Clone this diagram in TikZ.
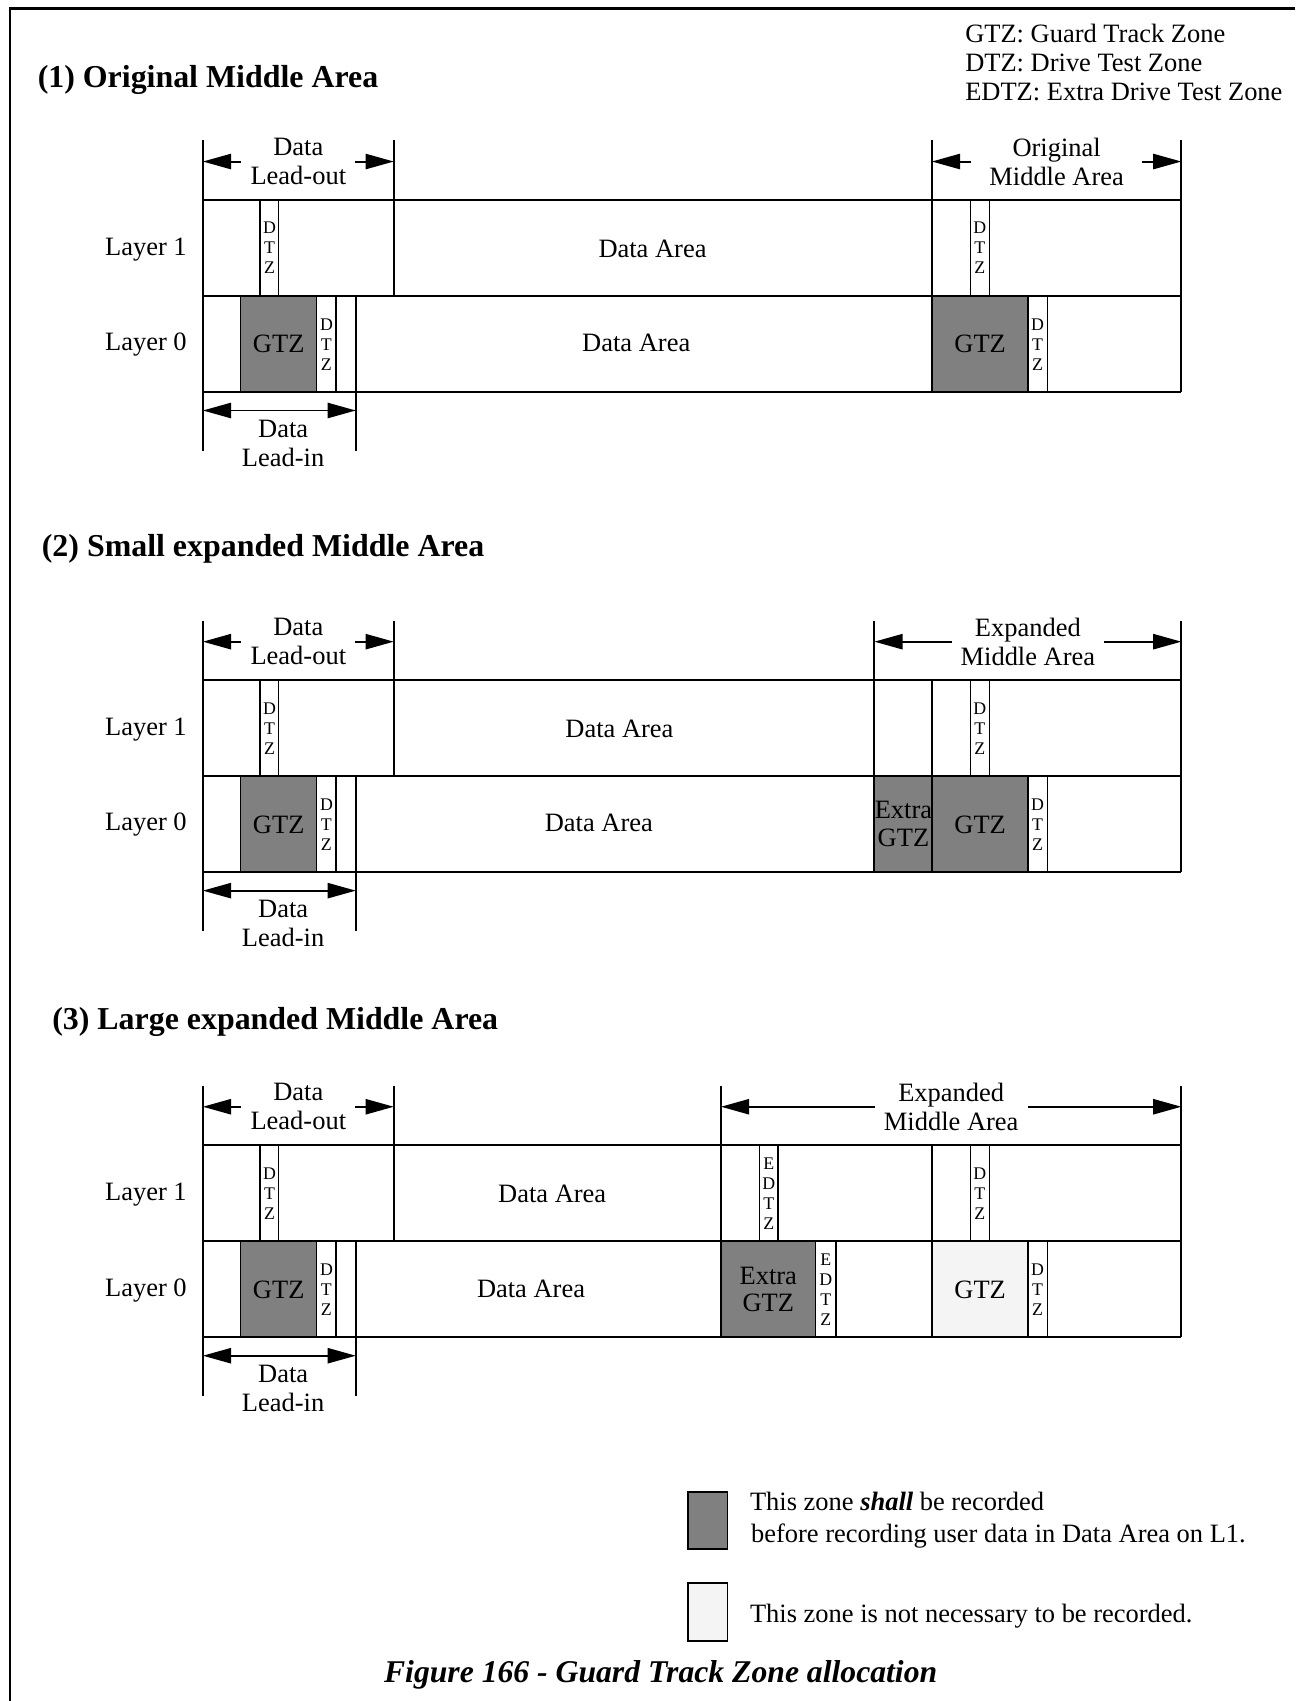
\documentclass[tikz,border=0pt]{standalone}
\usepackage{fontspec}
\setmainfont{Liberation Serif}
\usetikzlibrary{arrows.meta}
\definecolor{gtzgray}{HTML}{808080}
\definecolor{optgray}{HTML}{F4F4F4}
\newcommand{\lblfont}{\fontsize{12.2}{13.3}\selectfont}
\newcommand{\zonefont}{\fontsize{8.2}{9.2}\selectfont}

\begin{document}
\begin{tikzpicture}[x=0.5pt, y=-0.5pt,
    every node/.style={font=\lblfont, inner sep=0pt},
    lbl/.style={align=center},
    ttl/.style={anchor=west, font=\fontsize{14.7}{16}\selectfont\bfseries},
    rowline/.style={line width=0.9pt},
    zone/.style={draw, line width=0.6pt, fill=white},
    gtz/.style={zone, fill=gtzgray},
    tz/.style={font=\zonefont, align=center},
    xgtz/.style={align=center, font=\fontsize{12.2}{12.6}\selectfont},
    dim/.style={line width=0.9pt,
                {Triangle[length=13pt, width=7pt]}-{Triangle[length=13pt, width=7pt]}},
    gap/.style={midway, fill=white, align=center, inner xsep=4.2pt},
  ]
  \useasboundingbox (0,0) rectangle (1194,1568);
  \draw[line width=1.1pt] (1194,8) -- (9.5,8) -- (9.5,1568);

  \node[anchor=west, align=left] (abbr) at (889.4,57.7)
    {GTZ: Guard Track Zone\\DTZ: Drive Test Zone\\EDTZ: Extra Drive Test Zone};
  \node[ttl] (title1) at (34.4,73.8) {(1) Original Middle Area};
  \node[ttl] (title2) at (38.2,505.5) {(2) Small expanded Middle Area};
  \node[ttl] (title3) at (47.8,941.7) {(3) Large expanded Middle Area};

  % zones that only (2) and (3) have
  \begin{scope}[shift={(0,627)}]
    \draw[gtz] (806,88.5) rectangle (859.5,177);
    \node[xgtz] (extra-2) at (832.8,132.5) {Extra\\GTZ};
  \end{scope}
  \begin{scope}[shift={(0,1055.7)}]
    \draw[zone] (700.2,0) rectangle (717.2,88.5);
    \draw[gtz] (664.6,88.5) rectangle (751.8,177);
    \draw[zone] (751.8,88.5) rectangle (770.7,177);
    \node[tz] (edtz-a3) at (708.7,44.3) {E\\D\\T\\Z};
    \node[tz] (edtz-b3) at (761.3,133) {E\\D\\T\\Z};
    \node[xgtz] (extra-3) at (708.2,133) {Extra\\GTZ};
  \end{scope}

  \foreach \s/\ty/\ma/\mw/\mgap/\da/\db/\gf in
      {1/184.4/859/Original/8.5pt/601.5/586.5/gtzgray,
       2/627/806/Expanded/4.2pt/571/552/gtzgray,
       3/1055.7/664.6/Expanded/4.2pt/509/489.5/optgray} {
    \begin{scope}[shift={(0,\ty)}]
      % zones
      \draw[zone] (239.7,0) rectangle (257,88.5);
      \draw[gtz] (221.8,88.5) rectangle (291.9,177);
      \draw[zone] (291.9,88.5) rectangle (309.8,177);
      \draw[zone] (894.3,0) rectangle (911.8,88.5);
      \draw[zone, fill=\gf] (859.5,88.5) rectangle (947.5,177);
      \draw[zone] (947.5,88.5) rectangle (965.3,177);
      \node[tz] (dtz-a\s) at (248.4,44.3) {D\\T\\Z};
      \node[tz] (dtz-b\s) at (300.9,133) {D\\T\\Z};
      \node[tz] (dtz-c\s) at (903.1,44.3) {D\\T\\Z};
      \node[tz] (dtz-d\s) at (956.4,133) {D\\T\\Z};
      \node (gtz-a\s) at (256.9,133) {GTZ};
      \node (gtz-b\s) at (903.5,133) {GTZ};

      % rows and borders
      \draw[rowline] (187,0) -- (1089,0) (187,88.5) -- (1089,88.5)
        (187,177) -- (1089,177);
      \draw[rowline] (187,-55) -- (187,231) (363,-55) -- (363,88.5)
        (328,88.5) -- (328,231) (\ma,-55) -- (\ma,177)
        (859.5,0) -- (859.5,177) (1089,-55) -- (1089,177);
      \node (lay1-\s) at (134.5,45.5) {Layer 1};
      \node (lay0-\s) at (134.5,133.5) {Layer 0};
      \node (da1-\s) at (\da,45) {Data Area};
      \node (da0-\s) at (\db,132) {Data Area};

      % dimensions
      \coordinate (lo-a\s) at (187,-35.5);
      \coordinate (lo-b\s) at (363,-35.5);
      \draw[dim] (lo-a\s) -- (lo-b\s) node[gap] (lout-\s) {Data\\Lead-out};
      \coordinate (ma-a\s) at (\ma,-35.5);
      \coordinate (ma-b\s) at (1089,-35.5);
      \draw[dim] (ma-a\s) -- (ma-b\s)
        node[gap, inner xsep=\mgap] (mid-\s) {\mw\\Middle Area};
      \coordinate (li-a\s) at (187,194);
      \coordinate (li-b\s) at (328,194);
      \draw[dim] (li-a\s) -- (li-b\s);
      \node[lbl] (lin-\s) at (261,224) {Data\\Lead-in};
    \end{scope}
  }

  % legend
  \draw[gtz, line width=0.9pt] (634.3,1375) rectangle (670.6,1428);
  \node[anchor=west] (leg-a) at (691,1384) {This zone \textbf{\textit{shall}} be recorded};
  \node[anchor=west] (leg-b) at (692,1416) {before recording user data in Data Area on L1.};
  \draw[zone, fill=optgray, line width=0.9pt] (634.3,1459) rectangle (670.6,1513);
  \node[anchor=west] (leg-c) at (691,1490) {This zone is not necessary to be recorded.};

  \node[font=\fontsize{14.6}{16}\selectfont\bfseries\itshape] (caption) at (609,1544)
    {Figure 166 - Guard Track Zone allocation};
\end{tikzpicture}
\end{document}
